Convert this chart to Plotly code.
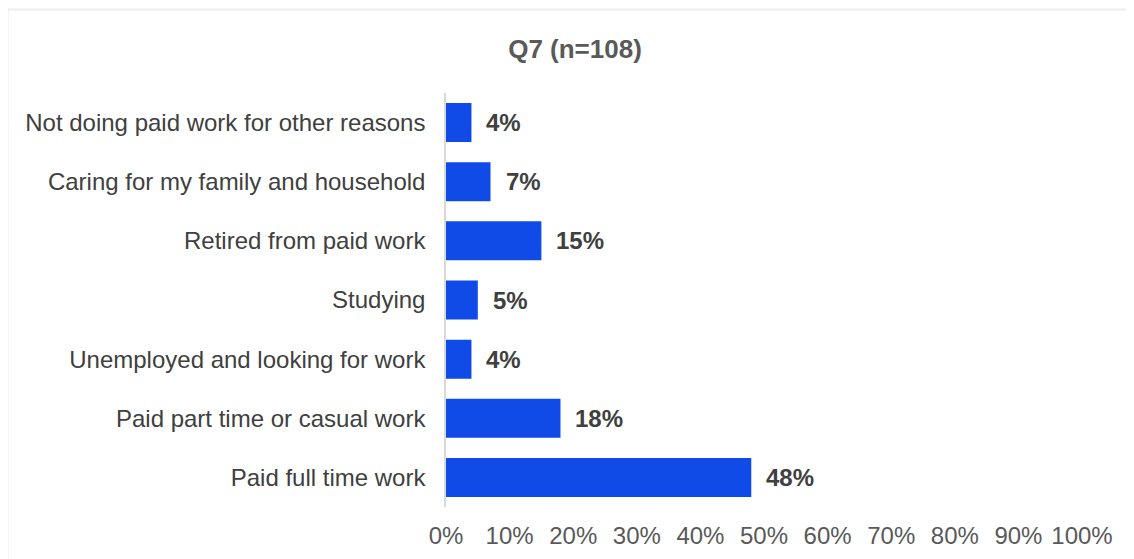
import plotly.graph_objects as go

# Chart data
categories = [
    "Not doing paid work for other reasons",
    "Caring for my family and household",
    "Retired from paid work",
    "Studying",
    "Unemployed and looking for work",
    "Paid part time or casual work",
    "Paid full time work",
]
shares = [0.04, 0.07, 0.15, 0.05, 0.04, 0.18, 0.48]
value_labels = ["4%", "7%", "15%", "5%", "4%", "18%", "48%"]
chart_title = "Q7 (n=108)"

FONT = "Liberation Sans, Arial, sans-serif"

fig = go.Figure(
    go.Bar(
        x=shares,
        y=categories,
        orientation="h",
        marker=dict(color="#104be8", line=dict(width=0)),
        width=0.66,
        hoverinfo="skip",
    )
)

# Value labels just past the end of each bar
for cat, val, lab in zip(categories, shares, value_labels):
    fig.add_annotation(
        x=val, y=cat, text=f"<b>{lab}</b>",
        xanchor="left", yanchor="middle", xshift=13, showarrow=False,
        font=dict(family=FONT, size=24, color="#404040"),
    )

# light frame around the chart (page body adds 8px offset)
fig.add_shape(
    type="rect", xref="paper", yref="paper",
    x0=-438.5 / 636, x1=1.2, y0=-0.3, y1=(499 - 1.5) / 414,
    line=dict(color="#ececec", width=2), fillcolor="rgba(0,0,0,0)", layer="below",
)

fig.update_layout(
    width=1134, height=559,
    margin=dict(l=438, r=60, t=85, b=60),
    paper_bgcolor="white", plot_bgcolor="white",
    showlegend=False,
    title=dict(
        text=f"<b>{chart_title}</b>", x=0.5, xref="container", xanchor="center",
        y=1 - 41 / 559, yref="container", yanchor="middle",
        font=dict(family=FONT, size=26, color="#595959"),
    ),
    font=dict(family=FONT),
)

fig.update_xaxes(
    range=[0, 1], dtick=0.1, tick0=0, tickformat=".0%",
    showgrid=False, zeroline=False, showline=False,
    ticklabelstandoff=12,
    tickfont=dict(family=FONT, size=24, color="#595959"),
)
fig.update_yaxes(
    autorange="reversed",
    showgrid=False, zeroline=False,
    showline=True, linecolor="#d9d9d9", linewidth=1.5,
    ticklabelstandoff=14,
    tickfont=dict(family=FONT, size=24, color="#404040"),
)

fig.write_html("out.html")
